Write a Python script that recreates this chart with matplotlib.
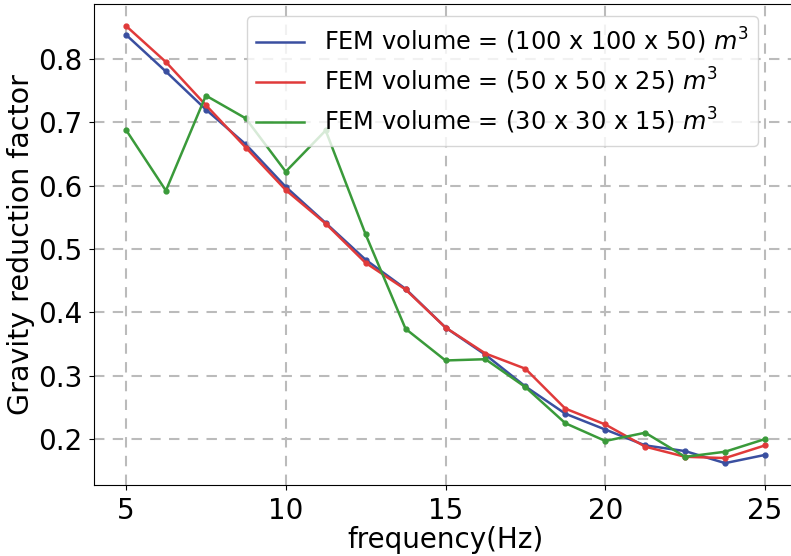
import numpy as np
import matplotlib.pyplot as plt

# frequency samples (Hz)
freq = [5, 6.25, 7.5, 8.75, 10, 11.25, 12.5, 13.75, 15, 16.25,
        17.5, 18.75, 20, 21.25, 22.5, 23.75, 25]

# gravity reduction factor for the three FEM volumes
g_100 = [0.838, 0.780, 0.720, 0.665, 0.598, 0.541, 0.483, 0.437, 0.376, 0.333,
         0.283, 0.240, 0.215, 0.190, 0.181, 0.162, 0.175]
g_50 = [0.852, 0.795, 0.727, 0.660, 0.593, 0.540, 0.478, 0.436, 0.376, 0.335,
        0.311, 0.248, 0.223, 0.188, 0.172, 0.170, 0.190]
g_30 = [0.688, 0.592, 0.742, 0.706, 0.622, 0.687, 0.523, 0.374, 0.324, 0.326,
        0.282, 0.225, 0.197, 0.210, 0.172, 0.180, 0.200]

labels = [r'FEM volume = (100 x 100 x 50) $m^3$',
          r'FEM volume = (50 x 50 x 25) $m^3$',
          r'FEM volume = (30 x 30 x 15) $m^3$']

fig = plt.figure(figsize=(7.91, 5.56), dpi=100)
ax = fig.add_axes([94/791, 71/556, 703/791, 481/556])

ax.plot(freq, g_100, '-o', color='#3a4fa0', ms=3.5, lw=1.8, label=labels[0])
ax.plot(freq, g_50, '-o', color='#e03a3a', ms=3.5, lw=1.8, label=labels[1])
ax.plot(freq, g_30, '-o', color='#3a9a3a', ms=3.5, lw=1.8, label=labels[2])

ax.set_xlim(4, 26)
ax.set_xticks([5, 10, 15, 20, 25])
ax.set_yticks([0.2, 0.3, 0.4, 0.5, 0.6, 0.7, 0.8])
ax.grid(True, ls=(0, (5, 4)), color='#bbbbbb', lw=1.5)
ax.tick_params(labelsize=20, pad=5)
ax.set_xlabel('frequency(Hz)', fontsize=20, labelpad=1)
ax.set_ylabel('Gravity reduction factor', fontsize=20.5, labelpad=2)

leg = ax.legend(loc='upper right', fontsize=17.3, handletextpad=0.8,
                labelspacing=0.42, borderaxespad=0,
                bbox_to_anchor=(758/791, 1 - 16/556),
                bbox_transform=fig.transFigure)
for h in leg.get_lines():
    h.set_marker('')

fig.savefig('out.png', dpi=100)
